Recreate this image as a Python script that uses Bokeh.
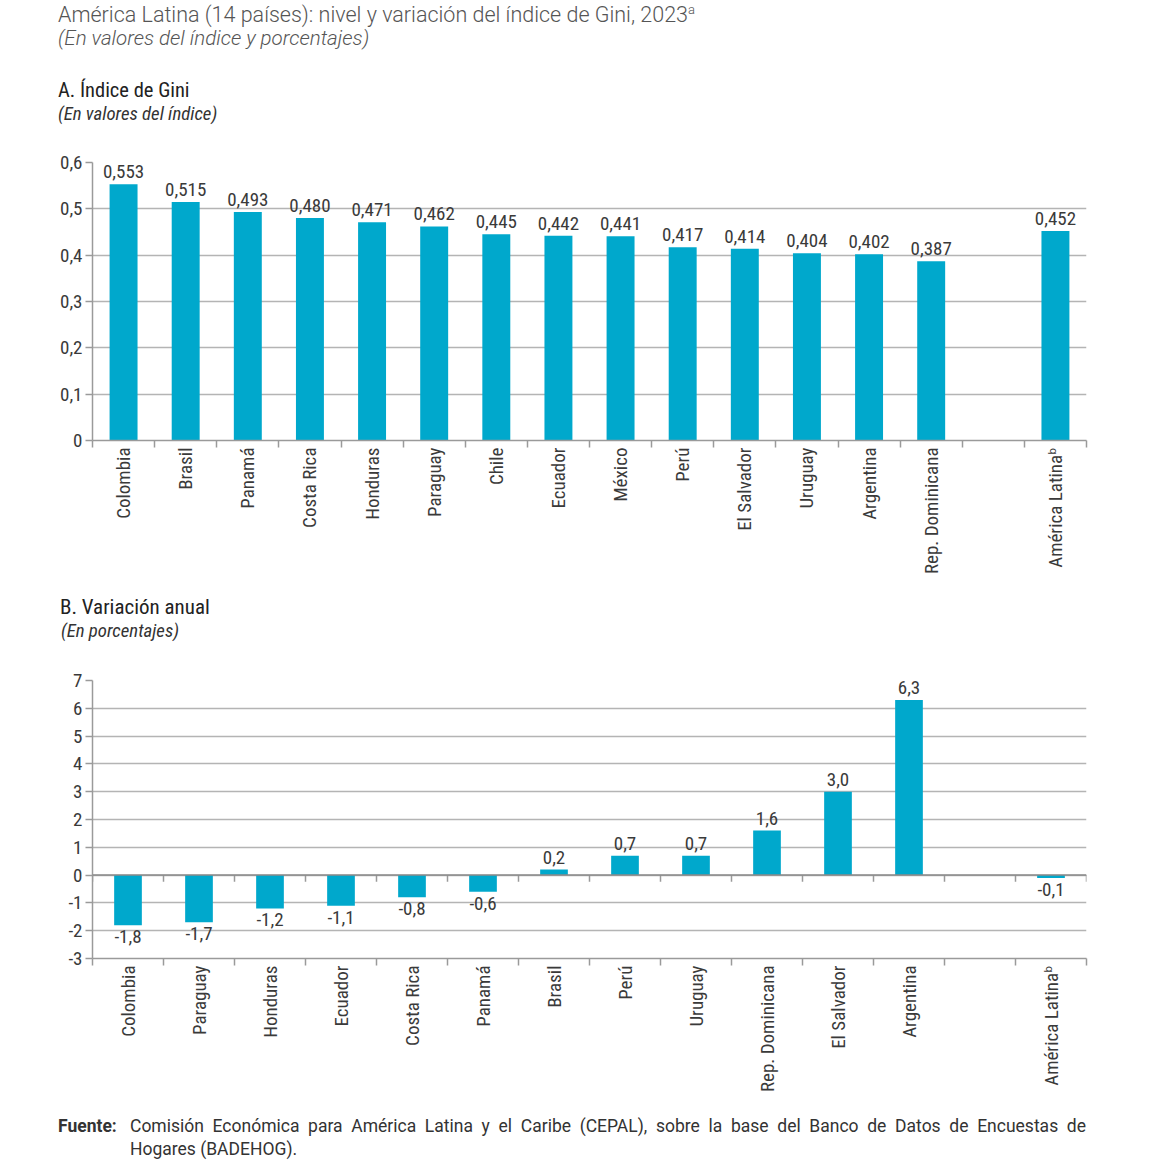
import math
from bokeh.plotting import figure
from bokeh.models import (FactorRange, Range1d, LinearAxis, CategoricalAxis, FixedTicker,
                          Div, Span, Grid, CustomJSTickFormatter)
from bokeh.layouts import column
from bokeh.embed import file_html
from bokeh.resources import INLINE
from bokeh.core.properties import value

# ---------------- data ----------------
gini_countries = ["Colombia", "Brasil", "Panamá", "Costa Rica", "Honduras", "Paraguay", "Chile",
                  "Ecuador", "México", "Perú", "El Salvador", "Uruguay", "Argentina", "Rep. Dominicana"]
gini_values = [0.553, 0.515, 0.493, 0.480, 0.471, 0.462, 0.445, 0.442, 0.441, 0.417, 0.414, 0.404,
               0.402, 0.387]
region_label = "América Latinaᵇ"
gini_region = 0.452

var_countries = ["Colombia", "Paraguay", "Honduras", "Ecuador", "Costa Rica", "Panamá", "Brasil",
                 "Perú", "Uruguay", "Rep. Dominicana", "El Salvador", "Argentina"]
var_values = [-1.8, -1.7, -1.2, -1.1, -0.8, -0.6, 0.2, 0.7, 0.7, 1.6, 3.0, 6.3]
var_region = -0.1

gini_ticks = [0, 0.1, 0.2, 0.3, 0.4, 0.5, 0.6]
var_ticks = [-3, -2, -1, 0, 1, 2, 3, 4, 5, 6, 7]

title_main = "América Latina (14 países): nivel y variación del índice de Gini, 2023"
title_sub = "(En valores del índice y porcentajes)"
panel_a_title = "A. Índice de Gini"
panel_a_sub = "(En valores del índice)"
panel_b_title = "B. Variación anual"
panel_b_sub = "(En porcentajes)"
source_line1 = ("Comisión Económica para América Latina y el Caribe (CEPAL), sobre la base del "
                "Banco de Datos de Encuestas de")
source_line2 = "Hogares (BADEHOG)."

# ---------------- style ----------------
FONT = "Liberation Sans Narrow, Roboto Condensed, DejaVu Sans Condensed, Roboto"
BAR = "#00A8CC"
TXT = "#3a3a3a"
AX = "#9a9a9a"
GRID = "#b4b4b4"
W = 1150


def fmt(v, nd):
    return f"{v:.{nd}f}".replace(".", ",")


def panel(cats, vals, rlabel, rval, ticks, tick_code, nd, bar_w, left, top, zero_ticks):
    factors = cats + [" ", rlabel]
    xs = cats + [rlabel]
    ys = vals + [rval]
    n = len(factors)
    boundaries = list(range(n + 1))  # synthetic coordinates of category edges
    p = figure(x_range=FactorRange(*factors, range_padding=0, factor_padding=0),
               y_range=Range1d(ticks[0], ticks[-1]),
               frame_width=994, frame_height=278,
               min_border_left=left, min_border_right=W - left - 994,
               min_border_top=top, min_border_bottom=150,
               x_axis_location=None, y_axis_location=None,
               output_backend="svg", toolbar_location=None,
               outline_line_color=None, background_fill_color=None, border_fill_color=None)
    for r in list(p.center):
        r.visible = False

    yaxis = LinearAxis(ticker=FixedTicker(ticks=ticks),
                       formatter=CustomJSTickFormatter(code=tick_code),
                       axis_line_color=AX, axis_line_width=1.5,
                       major_tick_line_color=AX, major_tick_line_width=1.5,
                       major_tick_out=7, major_tick_in=0, minor_tick_line_color=None,
                       major_label_text_font=FONT, major_label_text_font_size="19px",
                       major_label_text_color=TXT, major_label_standoff=3)
    p.add_layout(yaxis, "left")
    p.add_layout(Grid(dimension=1, ticker=FixedTicker(ticks=ticks), grid_line_color=GRID,
                      grid_line_width=1.5))

    tick_axis = LinearAxis(ticker=FixedTicker(ticks=boundaries),
                           formatter=CustomJSTickFormatter(code="return ''"),
                           axis_line_color=AX, axis_line_width=1.5,
                           major_tick_line_color=AX, major_tick_line_width=1.5,
                           major_tick_out=7, major_tick_in=0, minor_tick_line_color=None,
                           major_label_text_font_size="0px", major_label_standoff=0)
    p.add_layout(tick_axis, "below")
    cat_axis = CategoricalAxis(axis_line_color=None, major_tick_line_color=None,
                               major_tick_out=0, major_tick_in=0,
                               major_label_orientation=math.pi / 2,
                               major_label_text_font=FONT, major_label_text_font_size="19px",
                               major_label_text_color=TXT, major_label_standoff=0)
    p.add_layout(cat_axis, "below")

    if zero_ticks:
        p.add_layout(Span(location=0, dimension="width", line_color="#8a8a8a", line_width=1.5))
        p.segment(x0=boundaries, x1=boundaries, y0=[0] * len(boundaries),
                  y1=[-0.24] * len(boundaries), line_color=AX, line_width=1.5)

    p.vbar(x=xs, top=ys, bottom=0, width=bar_w, fill_color=BAR, line_color=None)

    pos_x = [x for x, y in zip(xs, ys) if y >= 0]
    pos_y = [y for y in ys if y >= 0]
    neg_x = [x for x, y in zip(xs, ys) if y < 0]
    neg_y = [y for y in ys if y < 0]
    if pos_x:
        p.text(x=pos_x, y=pos_y, text=[fmt(v, nd) for v in pos_y], text_align="center",
               text_baseline="bottom", y_offset=-6, text_font=value(FONT),
               text_font_size="19px", text_color=TXT)
    if neg_x:
        p.text(x=neg_x, y=neg_y, text=[fmt(v, nd) for v in neg_y], text_align="center",
               text_baseline="top", y_offset=5, text_font=value(FONT),
               text_font_size="19px", text_color=TXT)
    return p


pA = panel(gini_countries, gini_values, region_label, gini_region, gini_ticks,
           "return tick == 0 ? '0' : tick.toFixed(1).replace('.', ',');", 3, 0.45, 89, 22, False)
pB = panel(var_countries, var_values, region_label, var_region, var_ticks,
           "return tick.toFixed(0);", 1, 0.39, 92, 25, True)

CSS_TITLE = "font-family: Roboto, sans-serif; font-weight: 300; color: #555;"
CSS_COND = "font-family: 'Liberation Sans Narrow', 'Roboto Condensed', Roboto, sans-serif;"

header = Div(text=f"""
<div style="position:relative; width:{W}px; height:140px;">
  <div style="position:absolute; left:58px; top:-1px; font-size:21.5px; line-height:22px; white-space:nowrap; {CSS_TITLE}">{title_main}<sup style="font-size:13px;">a</sup></div>
  <div style="position:absolute; left:58px; top:28px; font-size:20.5px; line-height:21px; font-style:italic; white-space:nowrap; {CSS_TITLE}">{title_sub}</div>
  <div style="position:absolute; left:58px; top:80px; font-size:20.5px; line-height:21px; white-space:nowrap; color:#222; {CSS_COND}">{panel_a_title}</div>
  <div style="position:absolute; left:58px; top:105px; font-size:18.8px; line-height:19px; font-style:italic; white-space:nowrap; color:#333; {CSS_COND}">{panel_a_sub}</div>
</div>""", width=W, height=140, margin=(0, 0, 0, 0))

header_b = Div(text=f"""
<div style="position:relative; width:{W}px; height:65px;">
  <div style="position:absolute; left:60px; top:7px; font-size:21px; line-height:21px; white-space:nowrap; color:#222; {CSS_COND}">{panel_b_title}</div>
  <div style="position:absolute; left:61px; top:32px; font-size:18.8px; line-height:19px; font-style:italic; white-space:nowrap; color:#333; {CSS_COND}">{panel_b_sub}</div>
</div>""", width=W, height=65, margin=(0, 0, 0, 0))

footer = Div(text=f"""
<div style="position:relative; width:{W}px; height:56px; font-family: Roboto, sans-serif; font-size:17.5px; line-height:23px; color:#333;">
  <div style="position:absolute; left:58px; top:7px; font-weight:bold; white-space:nowrap;">Fuente:</div>
  <div style="position:absolute; left:130px; top:7px; width:956px;">
    <div style="text-align:justify; text-align-last:justify; white-space:nowrap;">{source_line1}</div>
    <div style="white-space:nowrap;">{source_line2}</div>
  </div>
</div>""", width=W, height=56, margin=(0, 0, 0, 0))

layout = column(header, pA, header_b, pB, footer, spacing=0)
open("out.html", "w").write(file_html(layout, INLINE))
